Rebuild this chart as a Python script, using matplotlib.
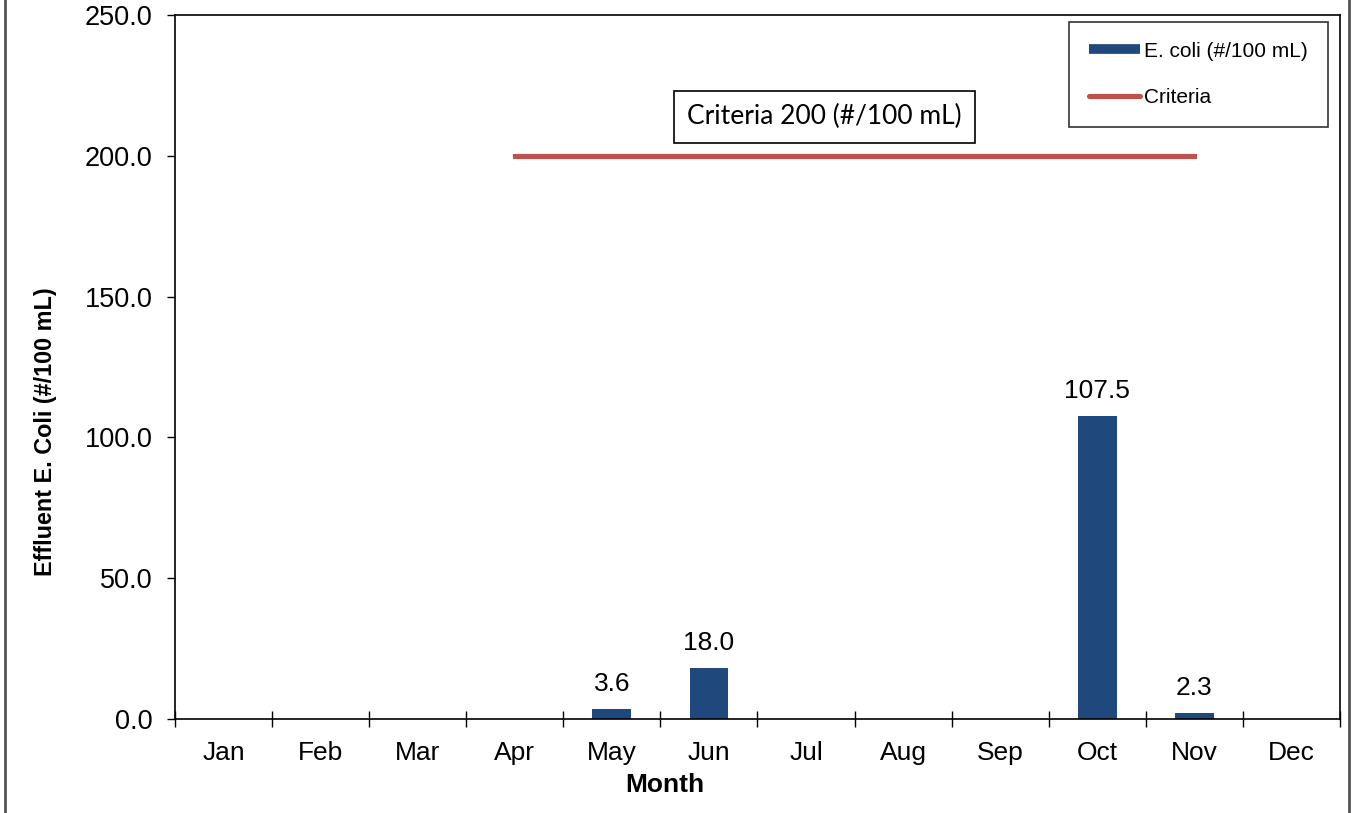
import numpy as np
import matplotlib
matplotlib.use("Agg")
import matplotlib.pyplot as plt
from matplotlib.lines import Line2D

plt.rcParams['font.family'] = ['Liberation Sans', 'DejaVu Sans']

months = ["Jan", "Feb", "Mar", "Apr", "May", "Jun",
          "Jul", "Aug", "Sep", "Oct", "Nov", "Dec"]
ecoli = [np.nan, np.nan, np.nan, np.nan, 3.6, 18.0,
         np.nan, np.nan, np.nan, 107.5, 2.3, np.nan]
criteria_months = ["Apr", "May", "Jun", "Jul", "Aug", "Sep", "Oct", "Nov"]
criteria_value = 200.0
yticks = [0.0, 50.0, 100.0, 150.0, 200.0, 250.0]

bar_color = "#1F497D"
line_color = "#C0504D"

fig = plt.figure(figsize=(13.55, 8.13), dpi=100)
ax = fig.add_axes([175 / 1355, 1 - 719 / 813, (1340 - 175) / 1355, (719 - 15) / 813])

x = np.arange(len(months))
ax.bar(x, ecoli, width=0.4, color=bar_color, zorder=2)

crit_x = [months.index(m) for m in criteria_months]
ax.plot(crit_x, [criteria_value] * len(crit_x), color=line_color, lw=3.7,
        solid_capstyle="projecting", zorder=3)

for xi, v in zip(x, ecoli):
    if not np.isnan(v):
        ax.annotate(f"{v:.1f}", (xi, v), xytext=(0, 18), textcoords="offset points",
                    ha="center", va="center", fontsize=19)

ax.set_xlim(-0.5, len(months) - 0.5)
ax.set_ylim(0, 250)
ax.set_yticks(yticks)
ax.set_yticklabels([f"{t:.1f}" for t in yticks])
ax.set_xticks(np.arange(len(months) + 1) - 0.5)
ax.set_xticklabels([])
ax.set_xticks(x, minor=True)
ax.set_xticklabels(months, minor=True)
ax.tick_params(axis="x", which="major", direction="inout", length=11, width=1)
ax.tick_params(axis="x", which="minor", length=0, pad=16, labelsize=19)
ax.tick_params(axis="y", direction="out", length=6, width=1, labelsize=19.5, pad=10)
for s in ax.spines.values():
    s.set_linewidth(1.2)

ax.set_xlabel("Month", fontsize=19, fontweight="bold")
ax.xaxis.set_label_coords((665 - 175) / 1165, -(785 - 719) / 704)
ax.xaxis.label.set_va("center")
ax.set_ylabel("Effluent E. Coli (#/100 mL)", fontsize=16.8, fontweight="bold")
ax.yaxis.set_label_coords(-(175 - 46) / 1165, (719 - 432) / 704)
ax.yaxis.label.set_va("center")

ax.text(6.19, 213.8, "Criteria 200 (#/100 mL)", ha="center", va="center",
        fontsize=19, family=["Lato", "DejaVu Sans"],
        bbox=dict(boxstyle="square,pad=0.5", fc="white", ec="black", lw=1.2), zorder=4)

handles = [Line2D([0], [0], color=bar_color, lw=7, solid_capstyle="butt"),
           Line2D([0], [0], color=line_color, lw=3.7, solid_capstyle="round")]
leg = ax.legend(handles, ["E. coli (#/100 mL)", "Criteria"], loc="upper right",
                bbox_to_anchor=(1328 / 1355, 1 - 22 / 813), bbox_transform=fig.transFigure,
                fontsize=15, frameon=True, fancybox=False, handlelength=2.45,
                handletextpad=0.2, labelspacing=1.3, borderpad=0.95, borderaxespad=0)
leg.get_frame().set_edgecolor("black")
leg.get_frame().set_linewidth(1.2)

# figure border at left and right
fig.add_artist(Line2D([5.5 / 1355, 5.5 / 1355], [0, 1], color="#555555", lw=2, transform=fig.transFigure))
fig.add_artist(Line2D([1349 / 1355, 1349 / 1355], [0, 1], color="#555555", lw=2, transform=fig.transFigure))

fig.savefig("out.png", dpi=100)
